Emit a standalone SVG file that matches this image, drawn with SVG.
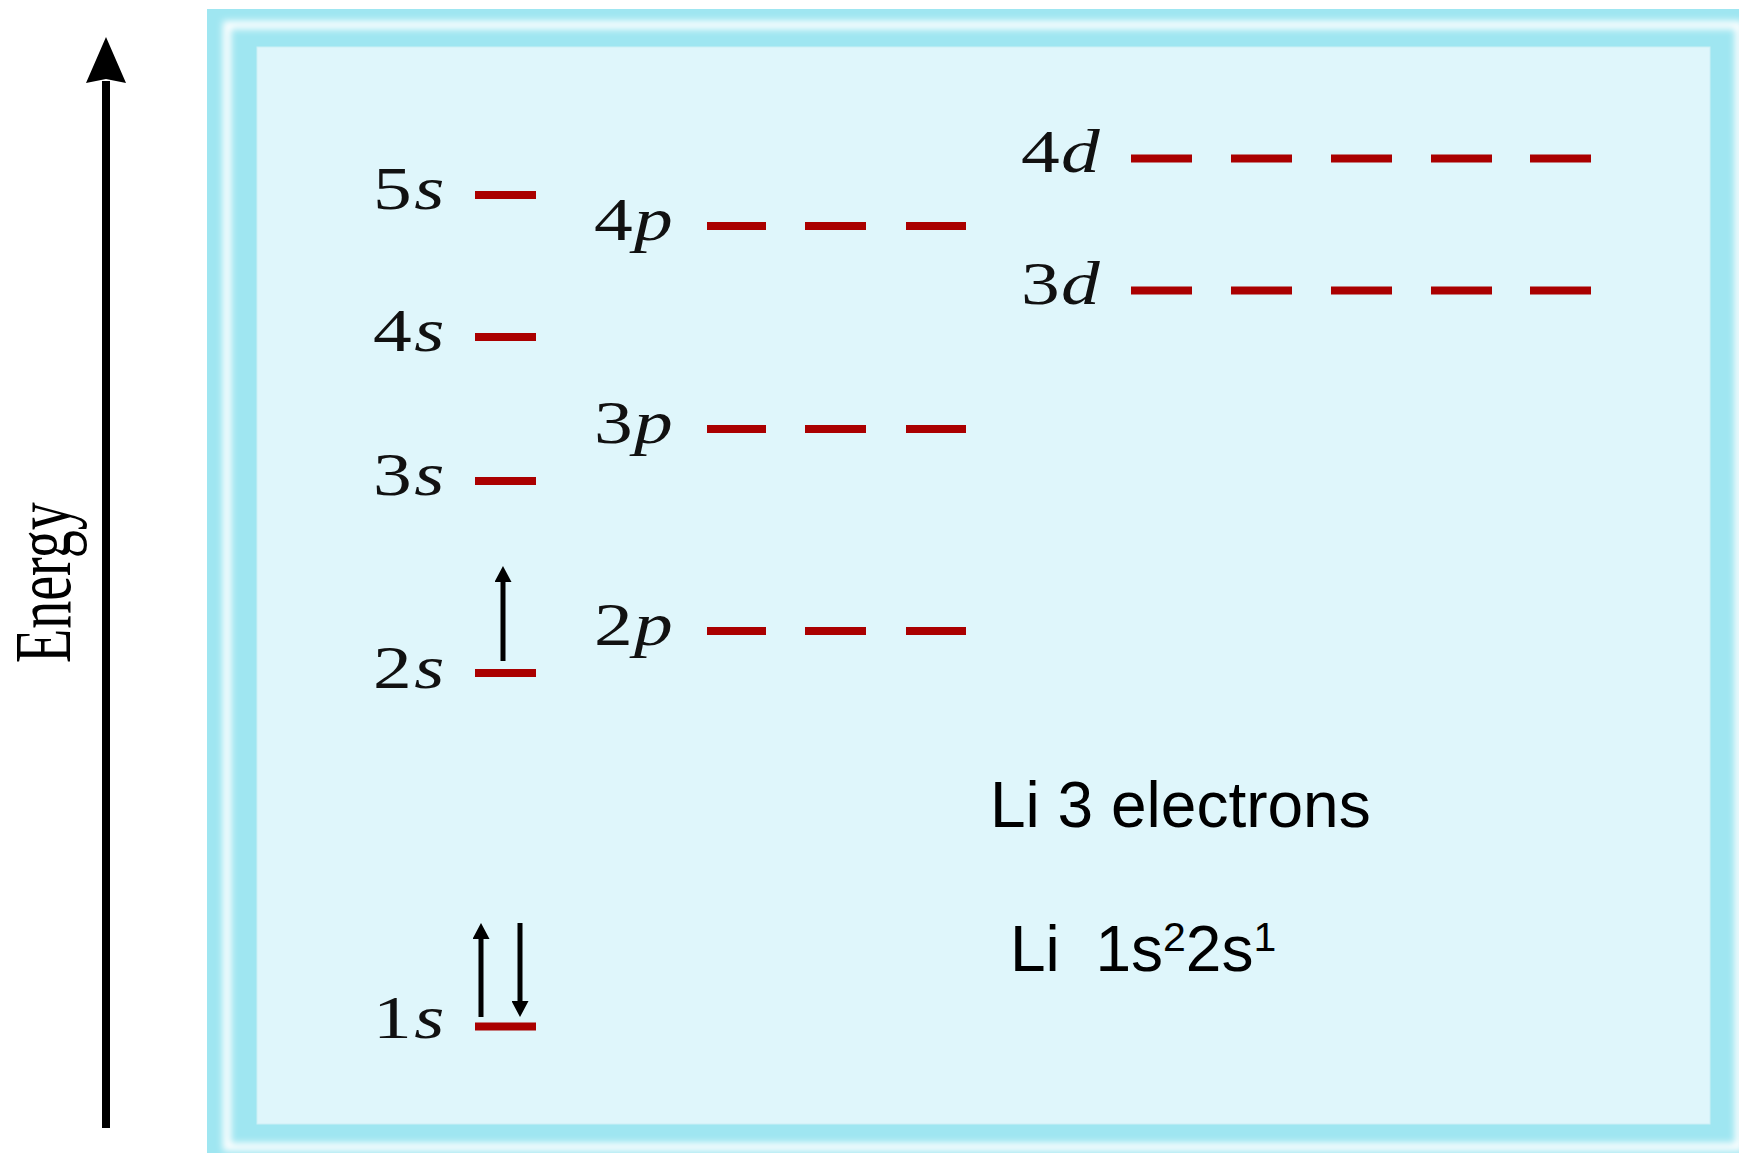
<svg xmlns="http://www.w3.org/2000/svg" width="1739" height="1153" viewBox="0 0 1739 1153">
  <style>
    .lvl { stroke: #aa0000; stroke-width: 8; fill: none; }
    .orb { font-family: "Liberation Serif", "Times New Roman", serif; font-size: 62px; fill: #111; }
    .it { font-style: italic; }
    .spin { stroke: #000; stroke-width: 5; fill: none; }
    .note { font-family: "Liberation Sans", Arial, sans-serif; font-size: 64px; fill: #000; }
  </style>
  <defs>
    <filter id="soft" x="-5%" y="-5%" width="110%" height="110%">
      <feGaussianBlur stdDeviation="3.5"/>
    </filter>
    <marker id="head" markerUnits="userSpaceOnUse" viewBox="0 0 16 17" refX="0" refY="8.5" markerWidth="16" markerHeight="17" orient="auto">
      <path d="M0,0 L16,8.5 L0,17 Z" fill="#000"/>
    </marker>
    <marker id="bighead" markerUnits="userSpaceOnUse" viewBox="0 0 46 40" refX="2" refY="20" markerWidth="46" markerHeight="40" orient="auto">
      <path d="M0,0 L46,20 L0,40 L4,20 Z" fill="#000"/>
    </marker>
  </defs>

  <rect width="1739" height="1153" fill="#ffffff"/>

  <!-- frame -->
  <g id="frame">
    <rect x="207" y="9" width="1560" height="1170" fill="#9fe6f1"/>
    <rect x="227" y="25" width="1512" height="1122" fill="none" stroke="#ffffff" stroke-width="8" filter="url(#soft)"/>
    <rect x="257" y="47" width="1453" height="1077" fill="#dff6fb" stroke="#cdeff6" stroke-width="1"/>
  </g>

  <!-- energy axis -->
  <g id="energy-axis">
    <line x1="106" y1="1128" x2="106" y2="81" stroke="#000" stroke-width="8" marker-end="url(#bighead)"/>
    <text transform="translate(70,663) rotate(-90) scale(1,1.45)" font-family="Liberation Serif, Times New Roman, serif" font-size="56" fill="#000">Energy</text>
  </g>

  <!-- s orbitals -->
  <g id="level-5s">
    <text class="orb" transform="translate(373,209) scale(1.25,1)">5<tspan class="it" x="33">s</tspan></text>
    <line class="lvl" x1="475" y1="195" x2="536" y2="195"/>
  </g>
  <g id="level-4s">
    <text class="orb" transform="translate(373,351) scale(1.25,1)">4<tspan class="it" x="33">s</tspan></text>
    <line class="lvl" x1="475" y1="337" x2="536" y2="337"/>
  </g>
  <g id="level-3s">
    <text class="orb" transform="translate(373,495) scale(1.25,1)">3<tspan class="it" x="33">s</tspan></text>
    <line class="lvl" x1="475" y1="481" x2="536" y2="481"/>
  </g>
  <g id="level-2s">
    <text class="orb" transform="translate(373,688) scale(1.25,1)">2<tspan class="it" x="33">s</tspan></text>
    <line class="lvl" x1="475" y1="673" x2="536" y2="673"/>
  </g>
  <g id="level-1s">
    <text class="orb" transform="translate(373,1038) scale(1.25,1)">1<tspan class="it" x="33">s</tspan></text>
    <line class="lvl" x1="475" y1="1026.5" x2="536" y2="1026.5"/>
  </g>

  <!-- p orbitals -->
  <g id="level-4p">
    <text class="orb" transform="translate(594,240) scale(1.25,1)">4<tspan class="it" x="32">p</tspan></text>
    <line class="lvl" x1="707" y1="226" x2="766" y2="226"/>
    <line class="lvl" x1="805" y1="226" x2="866" y2="226"/>
    <line class="lvl" x1="906" y1="226" x2="966" y2="226"/>
  </g>
  <g id="level-3p">
    <text class="orb" transform="translate(594,443) scale(1.25,1)">3<tspan class="it" x="32">p</tspan></text>
    <line class="lvl" x1="707" y1="429" x2="766" y2="429"/>
    <line class="lvl" x1="805" y1="429" x2="866" y2="429"/>
    <line class="lvl" x1="906" y1="429" x2="966" y2="429"/>
  </g>
  <g id="level-2p">
    <text class="orb" transform="translate(594,645) scale(1.25,1)">2<tspan class="it" x="32">p</tspan></text>
    <line class="lvl" x1="707" y1="631" x2="766" y2="631"/>
    <line class="lvl" x1="805" y1="631" x2="866" y2="631"/>
    <line class="lvl" x1="906" y1="631" x2="966" y2="631"/>
  </g>

  <!-- d orbitals -->
  <g id="level-4d">
    <text class="orb" transform="translate(1021,172) scale(1.25,1)">4<tspan class="it" x="32">d</tspan></text>
    <line class="lvl" x1="1131" y1="158.5" x2="1192" y2="158.5"/>
    <line class="lvl" x1="1231" y1="158.5" x2="1292" y2="158.5"/>
    <line class="lvl" x1="1331" y1="158.5" x2="1392" y2="158.5"/>
    <line class="lvl" x1="1431" y1="158.5" x2="1492" y2="158.5"/>
    <line class="lvl" x1="1530" y1="158.5" x2="1591" y2="158.5"/>
  </g>
  <g id="level-3d">
    <text class="orb" transform="translate(1021,304) scale(1.25,1)">3<tspan class="it" x="32">d</tspan></text>
    <line class="lvl" x1="1131" y1="290.5" x2="1192" y2="290.5"/>
    <line class="lvl" x1="1231" y1="290.5" x2="1292" y2="290.5"/>
    <line class="lvl" x1="1331" y1="290.5" x2="1392" y2="290.5"/>
    <line class="lvl" x1="1431" y1="290.5" x2="1492" y2="290.5"/>
    <line class="lvl" x1="1530" y1="290.5" x2="1591" y2="290.5"/>
  </g>

  <!-- electron spins -->
  <g id="connectors">
    <line class="spin" x1="503" y1="661" x2="503" y2="582" marker-end="url(#head)"/>
    <line class="spin" x1="481" y1="1017" x2="481" y2="939" marker-end="url(#head)"/>
    <line class="spin" x1="520" y1="923" x2="520" y2="1001" marker-end="url(#head)"/>
  </g>

  <!-- notes -->
  <g id="note-electrons">
    <text class="note" x="990" y="827">Li 3 electrons</text>
  </g>
  <g id="note-config">
    <text class="note" x="1010" y="971" xml:space="preserve">Li  1s<tspan font-size="41" y="951">2</tspan><tspan y="971">2s</tspan><tspan font-size="41" y="951">1</tspan></text>
  </g>
</svg>
